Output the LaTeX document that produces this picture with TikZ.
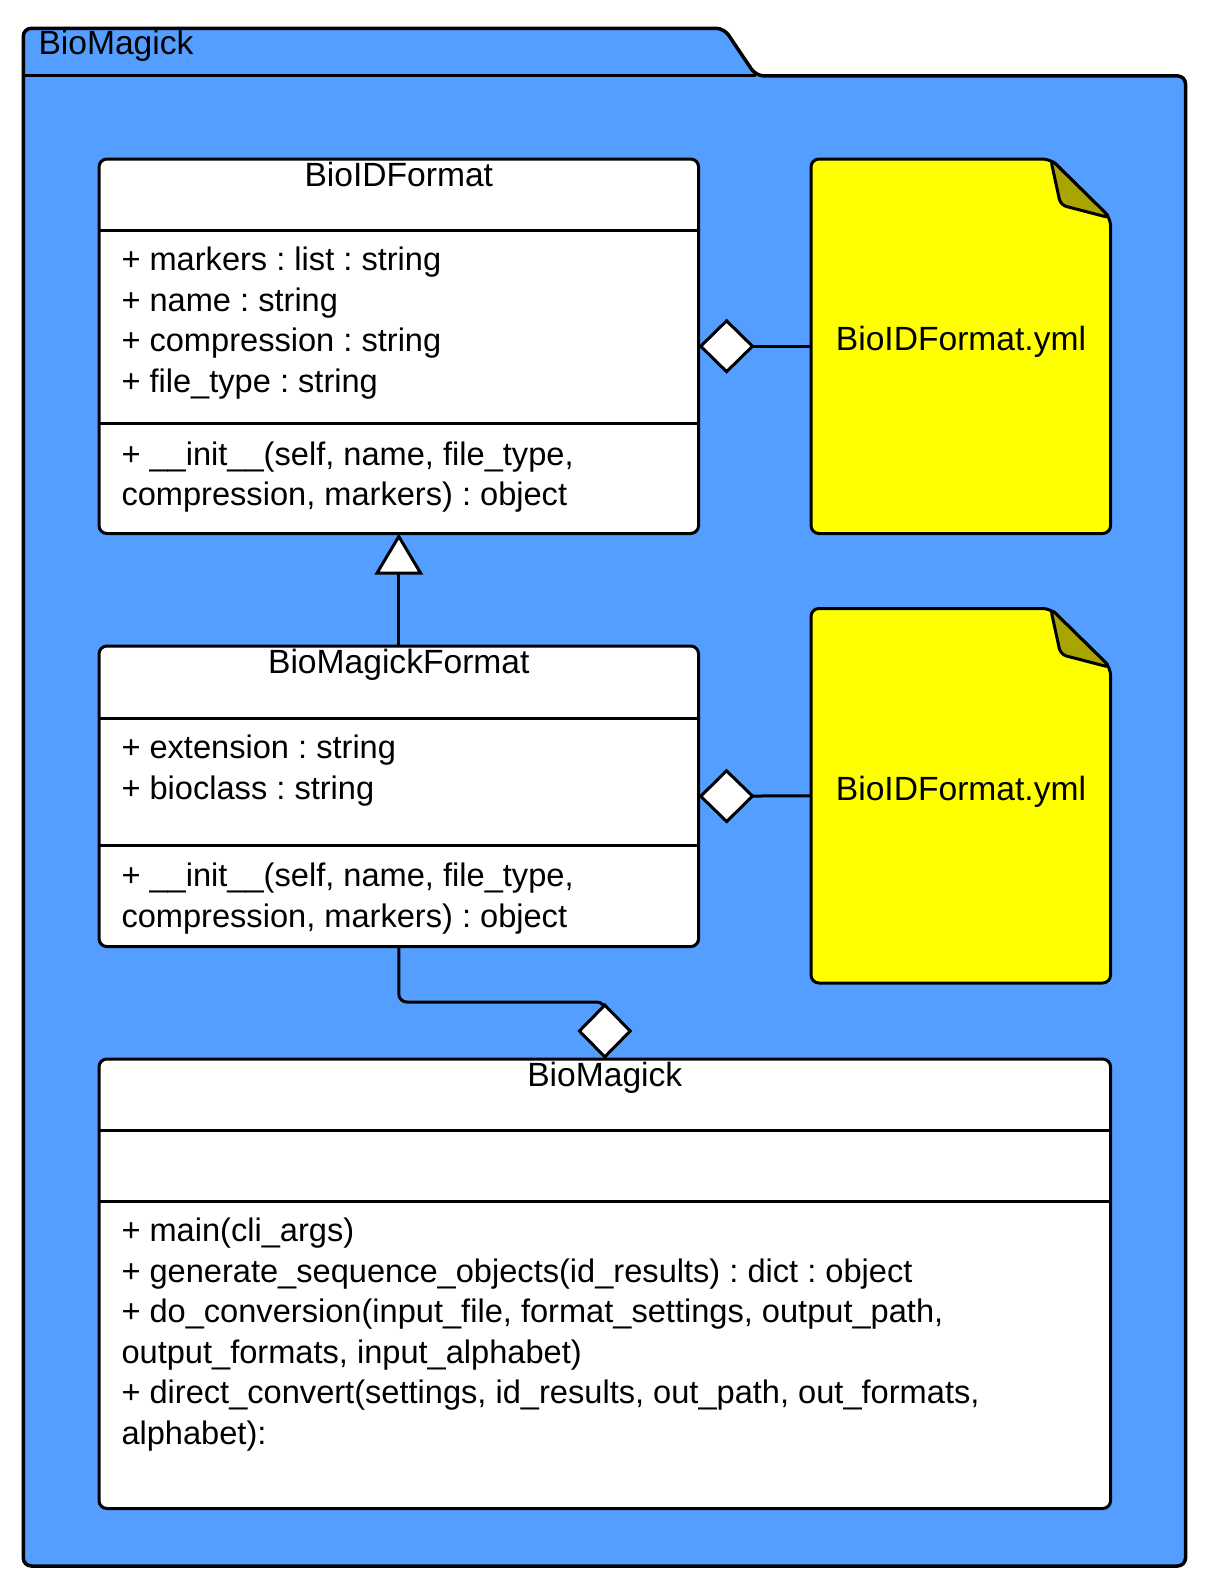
\documentclass[tikz,border=0pt]{standalone}
\usepackage{fontspec}
\setmainfont{Liberation Sans}
\usetikzlibrary{arrows.meta, calc, positioning}
\usepackage{xcolor}
\frenchspacing

\definecolor{pkgblue}{HTML}{539EFF}
\definecolor{noteyellow}{HTML}{FFFF00}
\definecolor{foldolive}{HTML}{A8A400}

\begin{document}
\begin{tikzpicture}[x=1pt, y=-1pt,
    every node/.style={font=\fontsize{32.6}{40.5}\selectfont, inner sep=0pt, outer sep=0pt},
    titletext/.style={anchor=base, font=\fontsize{33.6}{40.5}\selectfont},
    classbox/.style={draw, fill=white, line width=3pt, rounded corners=8pt, anchor=north west, minimum width=599.6pt},
    notenode/.style={anchor=north west, minimum width=299.6pt, minimum height=374.5pt},
    notebox/.style={draw, fill=noteyellow, line width=3pt, rounded corners=8pt},
    divline/.style={line width=3pt},
    membertext/.style={anchor=north west, align=left},
    aggline/.style={line width=3pt, -{Diamond[fill=white, length=56pt, width=55pt, line width=3pt]}},
    genline/.style={line width=3pt, -{Triangle[fill=white, length=41pt, width=48pt, line width=3pt]}}]

    % package frame
    \useasboundingbox (0,0) rectangle (1222,1587);
    \draw[fill=pkgblue, line width=3.5pt, rounded corners=8pt]
      (23.3,1566) -- (23.3,28.3) -- (724,28.3) -- (756,75.9) -- (1185.5,75.9) -- (1185.5,1566) -- cycle;
    \draw[line width=3pt] (23.3,75.9) -- (756,75.9);
    \node[titletext, anchor=base west] (pkg-name) at (38.5,55) {BioMagick};

    % BioIDFormat
    \node[classbox, minimum height=374.5pt] (idfmt) at (99,159) {};
    \draw[divline] ($(idfmt.north west)+(0,71)$) -- ($(idfmt.north east)+(0,71)$);
    \draw[divline] ($(idfmt.north west)+(0,264)$) -- ($(idfmt.north east)+(0,264)$);
    \node[titletext] (idfmt-name) at (398.8,186) {BioIDFormat};
    \node[membertext] (idfmt-attr) at (121.5,247.2) {+ markers : list : string\\+ name : string\\+ compression : string\\+ file\_type : string};
    \node[membertext] (idfmt-ops) at (121.5,441.8) {+ \_\_init\_\_(self, name, file\_type,\\compression, markers) : object};

    % BioMagickFormat
    \node[classbox, minimum height=300.6pt] (mkfmt) at (99,646) {};
    \draw[divline] ($(mkfmt.north west)+(0,72)$) -- ($(mkfmt.north east)+(0,72)$);
    \draw[divline] ($(mkfmt.north west)+(0,199)$) -- ($(mkfmt.north east)+(0,199)$);
    \node[titletext] (mkfmt-name) at (398.8,673) {BioMagickFormat};
    \node[membertext] (mkfmt-attr) at (121.5,735.2) {+ extension : string\\+ bioclass : string};
    \node[membertext] (mkfmt-ops) at (121.5,863.2) {+ \_\_init\_\_(self, name, file\_type,\\compression, markers) : object};

    % BioMagick
    \node[classbox, minimum width=1011.6pt, minimum height=449.5pt] (bmagick) at (99,1059) {};
    \draw[divline] ($(bmagick.north west)+(0,71)$) -- ($(bmagick.north east)+(0,71)$);
    \draw[divline] ($(bmagick.north west)+(0,142)$) -- ($(bmagick.north east)+(0,142)$);
    \node[titletext] (bmagick-name) at (604.8,1086) {BioMagick};
    \node[membertext] (bmagick-ops) at (121.5,1218.2) {+ main(cli\_args)\\+ generate\_sequence\_objects(id\_results) : dict : object\\+ do\_conversion(input\_file, format\_settings, output\_path,\\output\_formats, input\_alphabet)\\+ direct\_convert(settings, id\_results, out\_path, out\_formats,\\alphabet):};

    % yml notes
    \node[notenode] (yml1) at (811,159) {};
    \draw[notebox] (yml1.north west) -- ($(yml1.north east)+(-60,0)$) -- ($(yml1.north east)+(0,59)$)
      -- (yml1.south east) -- (yml1.south west) -- cycle;
    \draw[fill=foldolive, line width=3pt, rounded corners=6pt, line join=round]
      ($(yml1.north east)+(-60,0)$) -- ($(yml1.north east)+(-50,46)$) -- ($(yml1.north east)+(0,59)$) -- cycle;
    \node[titletext] (yml1-text) at (961,350) {BioIDFormat.yml};

    \node[notenode] (yml2) at (811,608.5) {};
    \draw[notebox] (yml2.north west) -- ($(yml2.north east)+(-60,0)$) -- ($(yml2.north east)+(0,59)$)
      -- (yml2.south east) -- (yml2.south west) -- cycle;
    \draw[fill=foldolive, line width=3pt, rounded corners=6pt, line join=round]
      ($(yml2.north east)+(-60,0)$) -- ($(yml2.north east)+(-50,46)$) -- ($(yml2.north east)+(0,59)$) -- cycle;
    \node[titletext] (yml2-text) at (961,800.7) {BioIDFormat.yml};

    % connectors
    \draw[aggline] (yml1.west) -- (idfmt.east);
    \draw[aggline] (yml2.west) -- (mkfmt.east);
    \draw[genline] (mkfmt.north) -- (idfmt.south);
    \draw[aggline, rounded corners=8pt] (mkfmt.south) |- ($(bmagick.north)+(0,-57)$) -- (bmagick.north);
  \end{tikzpicture}
\end{document}
